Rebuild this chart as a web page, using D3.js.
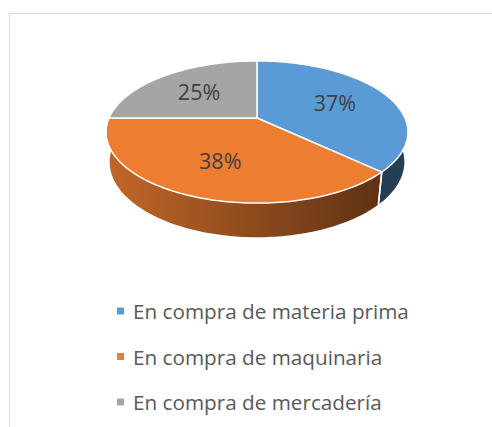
<!DOCTYPE html>
<html lang="es">

<head>
  <meta charset="UTF-8" />
  <title>pie 3d</title>
  <style>
    body {
      margin: 0;
      background: #fff;
    }

    #container {
      width: 492px;
      height: 427px;
    }

    text {
      font-family: "Open Sans", Lato, sans-serif;
    }
  </style>
</head>

<body>
  <div id="container"></div>
  <script src="https://cdn.jsdelivr.net/npm/d3@7"></script>
  <script>
    const categories = ["En compra de materia prima", "En compra de maquinaria", "En compra de mercadería"];
    const values = [37, 38, 25];
    const colors = ["#5B9BD5", "#ED7D31", "#A5A5A5"];

    const W = 492, H = 427;
    // fake 3d camera
    const cam = { cx: 257, cy: 118, f: 666, D: 4.5, tilt: 27.5 * Math.PI / 180, h: 0.23 };
    const cs = Math.cos(cam.tilt), sn = Math.sin(cam.tilt);

    // theta clockwise from the far side, r on the disk, y = 0 top / -h bottom
    function proj(theta, r, y) {
      let X = r * Math.sin(theta), Z = r * Math.cos(theta);
      let yc = y * cs + Z * sn, zc = Z * cs - y * sn;
      return [cam.cx + cam.f * X / (cam.D + zc), cam.cy - cam.f * yc / (cam.D + zc)];
    }

    function arcPts(a0, a1, y) {
      let n = Math.max(2, Math.ceil((a1 - a0) / 0.02));
      return d3.range(n + 1).map(i => proj(a0 + (a1 - a0) * i / n, 1, y));
    }

    const svg = d3.select('#container').append('svg').attr('width', W).attr('height', H);

    // chart area border (runs off the right and bottom)
    svg.append('rect')
      .attr('x', 9.5).attr('y', 13.5).attr('width', 520).attr('height', 460)
      .attr('fill', 'none').attr('stroke', '#D9D9D9').attr('stroke-width', 1);

    const color = d3.scaleOrdinal().domain(categories).range(colors);
    const arcs = d3.pie().sort(null).value(d => d.v)(categories.map((c, i) => ({ c: c, v: values[i] })));
    const line = d3.line();

    // side shading goes darker to the right
    const shade = d3.scaleLinear().domain([107, 380]).range([0.82, 0.40]).clamp(true);
    const defs = svg.append('defs');
    arcs.forEach((a, i) => {
      let g = defs.append('linearGradient').attr('id', 'side' + i)
        .attr('gradientUnits', 'userSpaceOnUse').attr('x1', 100).attr('x2', 410).attr('y1', 0).attr('y2', 0);
      let base = d3.rgb(color(a.data.c));
      d3.range(11).forEach(k => {
        let x = 100 + 31 * k, f = shade(x);
        g.append('stop').attr('offset', k / 10)
          .attr('stop-color', d3.rgb(base.r * f, base.g * f, base.b * f).formatHex());
      });
    });

    // sides, only the front half
    const lo = Math.PI / 2, hi = Math.PI * 1.5;
    arcs.forEach((a, i) => {
      let a0 = Math.max(a.startAngle, lo), a1 = Math.min(a.endAngle, hi);
      if (a1 <= a0) return;
      let top = arcPts(a0, a1, 0), bot = arcPts(a0, a1, -cam.h).reverse();
      svg.append('path').attr('d', line(top.concat(bot)) + 'Z')
        .attr('fill', `url(#side${i})`);
    });
    // white seams on the side
    arcs.forEach(a => {
      [a.startAngle, a.endAngle].forEach(t => {
        if (t > lo && t < hi) {
          svg.append('path').attr('d', line([proj(t, 1, 0), proj(t, 1, -cam.h)]))
            .attr('stroke', '#fff').attr('stroke-width', 1.5);
        }
      });
    });

    // top faces
    svg.selectAll('.slice')
      .data(arcs)
      .enter()
      .append('path')
      .attr('class', 'slice')
      .attr('d', a => line([proj(0, 0, 0)].concat(arcPts(a.startAngle, a.endAngle, 0))) + 'Z')
      .attr('fill', a => color(a.data.c))
      .attr('stroke', '#fff')
      .attr('stroke-width', 1.5)
      .attr('stroke-linejoin', 'round');

    // percent labels
    const total = d3.sum(values);
    const labelR = 0.6;
    svg.selectAll('.lbl')
      .data(arcs)
      .enter()
      .append('text')
      .attr('class', 'lbl')
      .attr('x', a => proj((a.startAngle + a.endAngle) / 2, labelR, 0)[0])
      .attr('y', a => proj((a.startAngle + a.endAngle) / 2, labelR, 0)[1])
      .attr('text-anchor', 'middle')
      .attr('dominant-baseline', 'central')
      .attr('font-size', 21.5)
      .attr('fill', '#404040')
      .text(a => Math.round(a.data.v / total * 100) + '%');

    // legend
    const legY = d3.scalePoint().domain(categories).range([311, 402]);
    const leg = svg.selectAll('.leg')
      .data(categories)
      .enter()
      .append('g')
      .attr('class', 'leg')
      .attr('transform', d => `translate(117, ${legY(d)})`);
    leg.append('rect')
      .attr('x', 0).attr('y', -3.5).attr('width', 7).attr('height', 7)
      .attr('fill', d => color(d));
    leg.append('text')
      .attr('x', 16).attr('y', 0)
      .attr('dominant-baseline', 'central')
      .attr('font-size', 20.7)
      .attr('fill', '#595959')
      .text(d => d);
  </script>
</body>

</html>
